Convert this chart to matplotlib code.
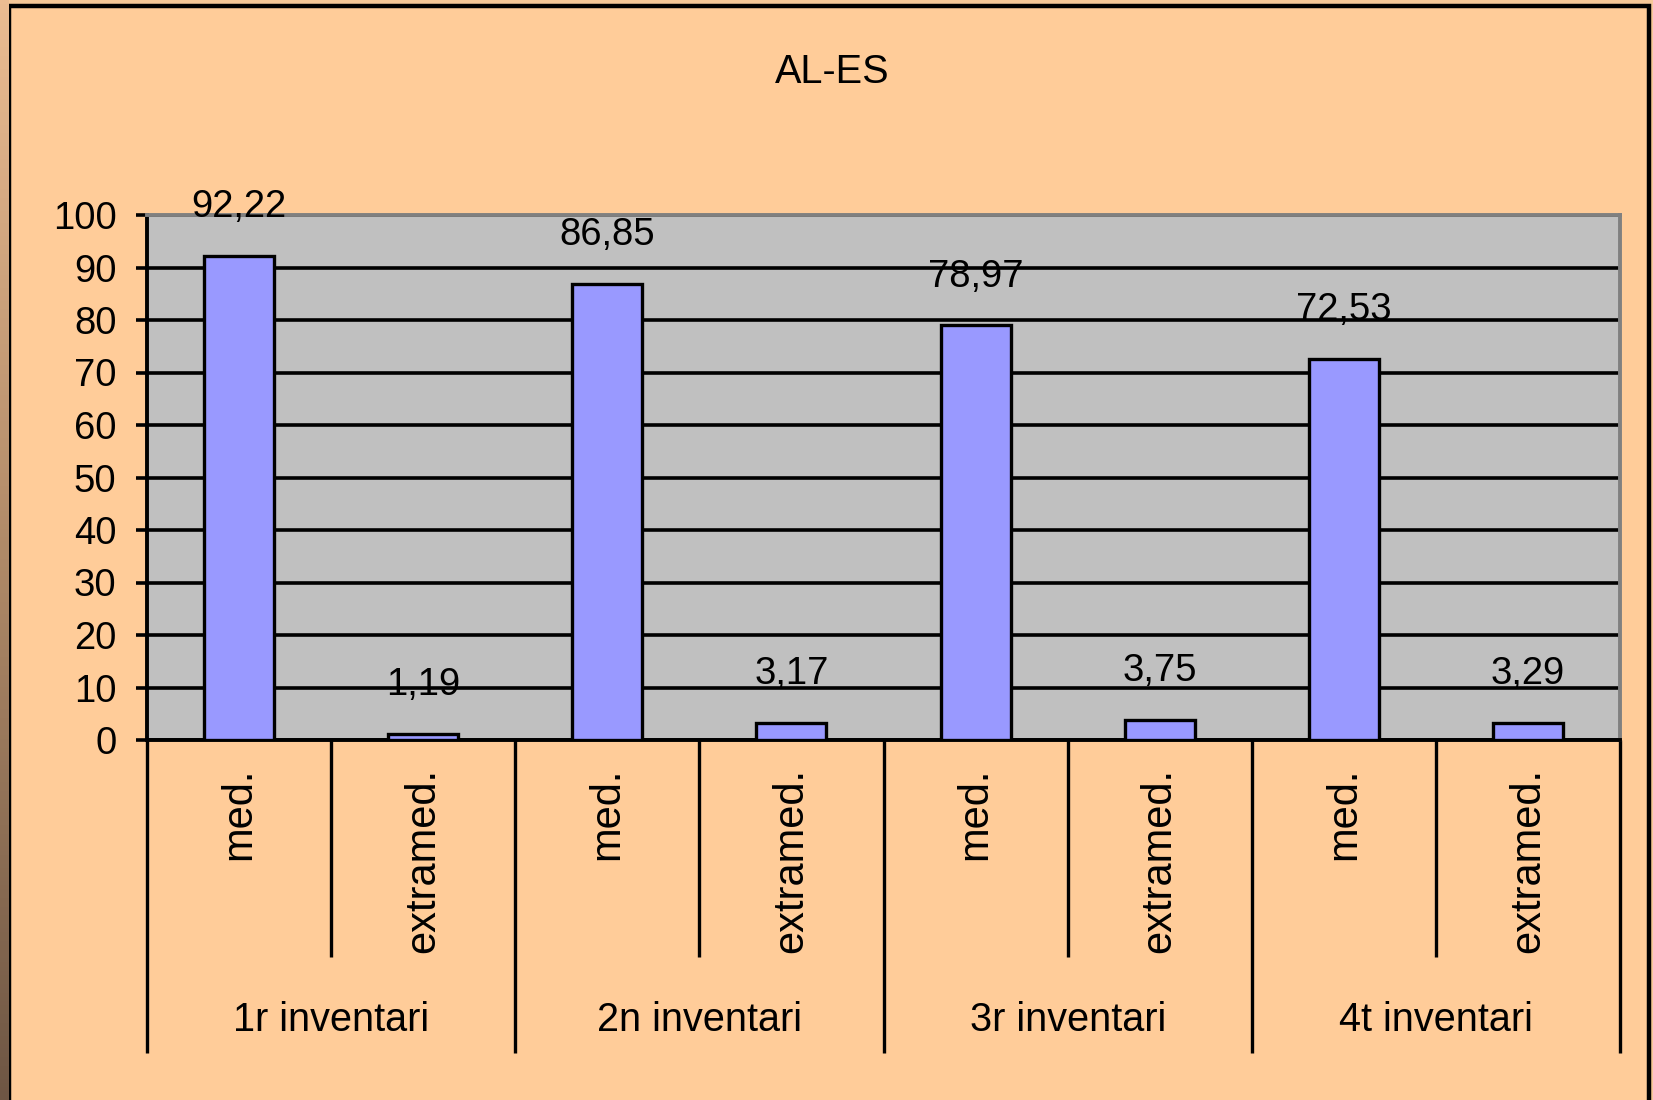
import matplotlib.pyplot as plt
import numpy as np
from matplotlib.patches import Rectangle
from matplotlib.colors import LinearSegmentedColormap

title = "AL-ES"
groups = ["1r inventari", "2n inventari", "3r inventari", "4t inventari"]
kinds = ["med.", "extramed."]
values = [92.22, 1.19, 86.85, 3.17, 78.97, 3.75, 72.53, 3.29]
value_labels = ["92,22", "1,19", "86,85", "3,17", "78,97", "3,75", "72,53", "3,29"]
yticks = [0, 10, 20, 30, 40, 50, 60, 70, 80, 90, 100]

plt.rcParams['font.family'] = ['Liberation Sans', 'DejaVu Sans']

W, H = 1653, 1100
fig = plt.figure(figsize=(W/100, H/100), dpi=100)
fig.patch.set_facecolor('#F6C898')

# brownish strip on the far left
strip = fig.add_axes([0, 0, 9/W, 1])
grad = np.linspace(0, 1, 256).reshape(-1, 1)
cmap = LinearSegmentedColormap.from_list('strip', ['#EBBC92', '#B08A68', '#6E5644'])
strip.imshow(grad, aspect='auto', cmap=cmap)
strip.axis('off')

# chart frame
fig.add_artist(Rectangle((9/W, -0.01), 1640/W, (H-6)/H + 0.01, transform=fig.transFigure,
                         facecolor='#FFCC99', edgecolor='black', lw=3.2, zorder=-1))

fig.text(832/W, 1 - 72/H, title, ha='center', va='center', fontsize=28.5)

ax = fig.add_axes([147/W, 360/H, 1473/W, 525/H])
ax.set_facecolor('#C0C0C0')

x = np.arange(len(values))
ax.bar(x, values, width=0.38, color='#9999FF', edgecolor='black', lw=2.4, zorder=3)
ax.set_xlim(-0.5, len(values) - 0.5)
ax.set_ylim(0, 100)
ax.set_yticks(yticks)
ax.set_xticks([])
ax.yaxis.grid(True, color='black', lw=2.6)
ax.set_axisbelow(True)
ax.tick_params(axis='y', length=8, width=2.6, direction='out', labelsize=27.5, pad=14)

ax.spines['left'].set_color('black')
ax.spines['left'].set_linewidth(2.8)
ax.spines['bottom'].set_color('black')
ax.spines['bottom'].set_linewidth(2.8)
for s in ['top', 'right']:
    ax.spines[s].set_color('#808080')
    ax.spines[s].set_linewidth(2.8)

for xi, v, lab in zip(x, values, value_labels):
    ax.annotate(lab, (xi, v), xytext=(0, 28), textcoords='offset points',
                ha='center', va='baseline', fontsize=27.5, zorder=5)

# pixel row -> data y (below the axis)
def ydat(py):
    return (740 - py) / 5.25

for i in range(len(values)):
    ax.text(i, ydat(768), kinds[i % 2], rotation=90, ha='center', va='top', fontsize=30)

for g, name in enumerate(groups):
    ax.text(2*g + 0.5, ydat(1020), name, ha='center', va='center', fontsize=28.5)

for k in range(len(values) + 1):
    xs = k - 0.5
    yb = ydat(1053) if k % 2 == 0 else ydat(957)
    ax.plot([xs, xs], [0, yb], color='black', lw=2.4, clip_on=False, solid_capstyle='butt')

plt.savefig("out.png", dpi=100, facecolor=fig.get_facecolor())
